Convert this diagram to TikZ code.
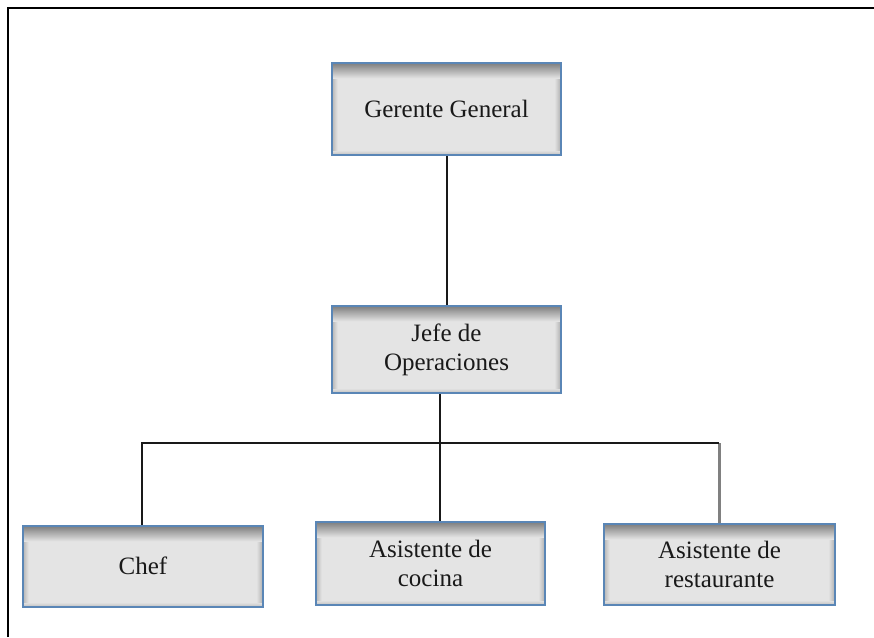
\documentclass[tikz,border=0pt]{standalone}
\usepackage{fontspec}
\setmainfont{Liberation Serif}
\definecolor{boxfill}{HTML}{E4E4E4}
\definecolor{boxedge}{HTML}{5A86B6}
\definecolor{shadowgray}{HTML}{7E7E7E}
\tikzset{
  orgbox/.style={
    rectangle, draw=boxedge, line width=2pt, fill=boxfill,
    align=center, text=black!90, inner sep=0pt,
    font=\fontsize{25}{29}\selectfont,
    path picture={
      % soft inner shadow: stepped bands along the sides and the top
      \foreach \i in {0,...,5}{
        \pgfmathtruncatemacro{\p}{45-\i*8}
        \fill[shadowgray!\p!boxfill]
          ([xshift=\i pt]path picture bounding box.north west) rectangle
          ([xshift=\i pt+1pt]path picture bounding box.south west);
        \fill[shadowgray!\p!boxfill]
          ([xshift=-\i pt]path picture bounding box.north east) rectangle
          ([xshift=-\i pt-1pt]path picture bounding box.south east);
      }
      \foreach \i in {0,...,3}{
        \pgfmathtruncatemacro{\p}{30-\i*8}
        \fill[shadowgray!\p!boxfill]
          ([yshift=\i pt]path picture bounding box.south west) rectangle
          ([yshift=\i pt+1pt]path picture bounding box.south east);
      }
      \foreach \i in {0,...,15}{
        \pgfmathtruncatemacro{\p}{100-\i*6.5}
        \fill[shadowgray!\p!boxfill]
          ([yshift=-\i pt]path picture bounding box.north west) rectangle
          ([yshift=-\i pt-1pt]path picture bounding box.north east);
      }
    }
  },
  link/.style={draw=black!90, line width=2pt},
  greylink/.style={draw=gray, line width=3pt},
  frame/.style={draw=black, line width=2.2pt}
}
\begin{document}
\begin{tikzpicture}[x=1pt,y=-1pt]
  \useasboundingbox (0,0) rectangle (874,637);
  \fill[white] (0,0) rectangle (874,637);

  % outer frame (top and left edges)
  \coordinate (fTL) at (8,8);
  \coordinate (fTR) at (874,8);
  \coordinate (fBL) at (8,637);
  \draw[frame] (fBL) -- (fTL) -- (fTR);

  % bus coordinates
  \coordinate (busL) at (142,443);
  \coordinate (busJ) at (440,443);
  \coordinate (busR) at (719,443);

  % boxes
  \node[orgbox, minimum width=229pt, minimum height=92pt] (gg) at (446.5,109) {Gerente General};
  \node[orgbox, minimum width=229pt, minimum height=87pt] (jefe) at (446.5,349.5) {Jefe de\\Operaciones};
  \node[orgbox, minimum width=240pt, minimum height=81pt] (chef) at (143,566) {Chef};
  \node[orgbox, minimum width=229pt, minimum height=83pt] (cocina) at (430.5,563.5) {Asistente de\\cocina};
  \node[orgbox, minimum width=231pt, minimum height=81pt] (rest) at (719.5,564) {Asistente de\\restaurante};

  % connectors
  \draw[link] (gg.south) -- (jefe.north);
  \draw[link] (busJ |- jefe.south) -- (busJ);
  \draw[greylink] (busR) -- (busR |- rest.north);
  \draw[link] (busL |- chef.north) -- (busL) -- (busR);
  \draw[link] (busJ) -- (busJ |- cocina.north);
\end{tikzpicture}
\end{document}
